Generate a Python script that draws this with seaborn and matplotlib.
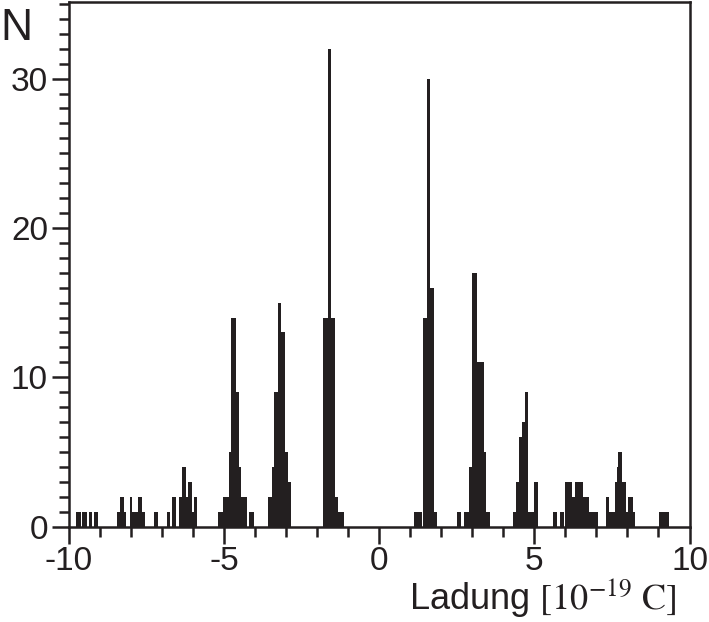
import numpy as np
import pandas as pd
import matplotlib
matplotlib.use("Agg")
import matplotlib.pyplot as plt
from matplotlib.ticker import MultipleLocator
import seaborn as sns

# ---- data: histogram bars (charge interval [lo, hi] in 1e-19 C, count N) ----
bar_lo = [-9.77, -9.56, -9.36, -9.19,
          -8.45, -8.36, -8.21, -8.04, -7.95, -7.78, -7.63, -7.26,
          -6.85, -6.69, -6.46, -6.36, -6.22, -6.17, -6.02, -5.97,
          -5.18, -5.04, -4.85, -4.77, -4.61, -4.52, -4.45, -4.18,
          -3.57, -3.45, -3.38, -3.25, -3.16, -3.02, -2.94,
          -1.80, -1.66, -1.54, -1.41, -1.33,
          1.13, 1.41, 1.54, 1.64, 1.77,
          2.52, 2.74, 2.90, 2.99, 3.15, 3.38, 3.45,
          4.31, 4.41, 4.50, 4.59, 4.70, 4.80, 4.98,
          5.60, 5.82, 6.00, 6.20, 6.32, 6.56, 6.75,
          7.31, 7.42, 7.59, 7.65, 7.70, 7.82, 7.95, 8.02, 8.17,
          9.03]
bar_hi = [-9.62, -9.41, -9.24, -9.05,
          -8.36, -8.21, -8.15, -7.95, -7.78, -7.63, -7.53, -7.12,
          -6.73, -6.54, -6.36, -6.22, -6.17, -6.02, -5.97, -5.86,
          -5.04, -4.85, -4.77, -4.61, -4.52, -4.45, -4.25, -4.03,
          -3.45, -3.38, -3.25, -3.16, -3.02, -2.94, -2.83,
          -1.66, -1.54, -1.41, -1.33, -1.13,
          1.37, 1.54, 1.64, 1.77, 1.85,
          2.64, 2.90, 2.99, 3.15, 3.38, 3.45, 3.56,
          4.41, 4.50, 4.59, 4.70, 4.80, 4.98, 5.13,
          5.73, 5.96, 6.20, 6.32, 6.56, 6.75, 7.05,
          7.42, 7.59, 7.65, 7.70, 7.82, 7.95, 8.02, 8.17, 8.25,
          9.35]
bar_n = [1, 1, 1, 1,
         1, 2, 1, 2, 1, 2, 1, 1,
         1, 2, 2, 4, 2, 3, 1, 2,
         1, 2, 5, 14, 9, 4, 2, 1,
         2, 4, 9, 15, 13, 5, 3,
         14, 32, 14, 2, 1,
         1, 14, 30, 16, 1,
         1, 1, 4, 17, 11, 5, 1,
         1, 3, 6, 7, 9, 1, 3,
         1, 1, 3, 2, 3, 2, 1,
         2, 1, 3, 4, 5, 3, 1, 2, 1,
         1]

x_ticks = [-10, -5, 0, 5, 10]
x_ticklabels = ["-10", "-5", "0", "5", "10"]
y_ticks = [0, 10, 20, 30]
y_ticklabels = ["0", "10", "20", "30"]

ink = "#231f20"

sns.set_theme(style="ticks")
plt.rcParams["font.family"] = ["Liberation Sans", "DejaVu Sans"]
plt.rcParams["mathtext.fontset"] = "stix"

lo = np.array(bar_lo)
hi = np.array(bar_hi)
edges = np.unique(np.round(np.concatenate([lo, hi]), 4)).tolist()
df = pd.DataFrame({"Ladung": (lo + hi) / 2.0, "N": bar_n})

fig = plt.figure(figsize=(7.09, 6.22), dpi=100)
ax = fig.add_axes([0.097, 0.1535, 0.8755, 0.8425])

sns.histplot(data=df, x="Ladung", weights="N", bins=edges, ax=ax,
             color=ink, alpha=1, edgecolor=ink, linewidth=0,
             antialiased=False)

ax.set_xlim(-10, 10)
ax.set_ylim(0, 35.1)
ax.set_xlabel("")
ax.set_ylabel("")

ax.set_xticks(x_ticks, x_ticklabels)
ax.set_yticks(y_ticks, y_ticklabels)
ax.xaxis.set_minor_locator(MultipleLocator(1))
ax.yaxis.set_minor_locator(MultipleLocator(1))

for s in ax.spines.values():
    s.set_color(ink)
    s.set_linewidth(1.8)

ax.tick_params(which="both", direction="out", color=ink, width=1.8,
               labelcolor=ink, top=False, right=False)
ax.tick_params(which="major", length=12, labelsize=24, pad=3)
ax.tick_params(axis="x", which="major", pad=2)
ax.tick_params(which="minor", length=7.5)

fig.text(0.0, 1 - 40 / 622, "N", fontsize=32, color=ink,
         ha="left", va="baseline")
ax.text(0.764, -0.159, r"Ladung $\mathrm{[10^{-19}\ C]}$",
        transform=ax.transAxes, fontsize=26, color=ink,
        ha="center", va="baseline")

fig.savefig("out.png", dpi=100, facecolor="white")
